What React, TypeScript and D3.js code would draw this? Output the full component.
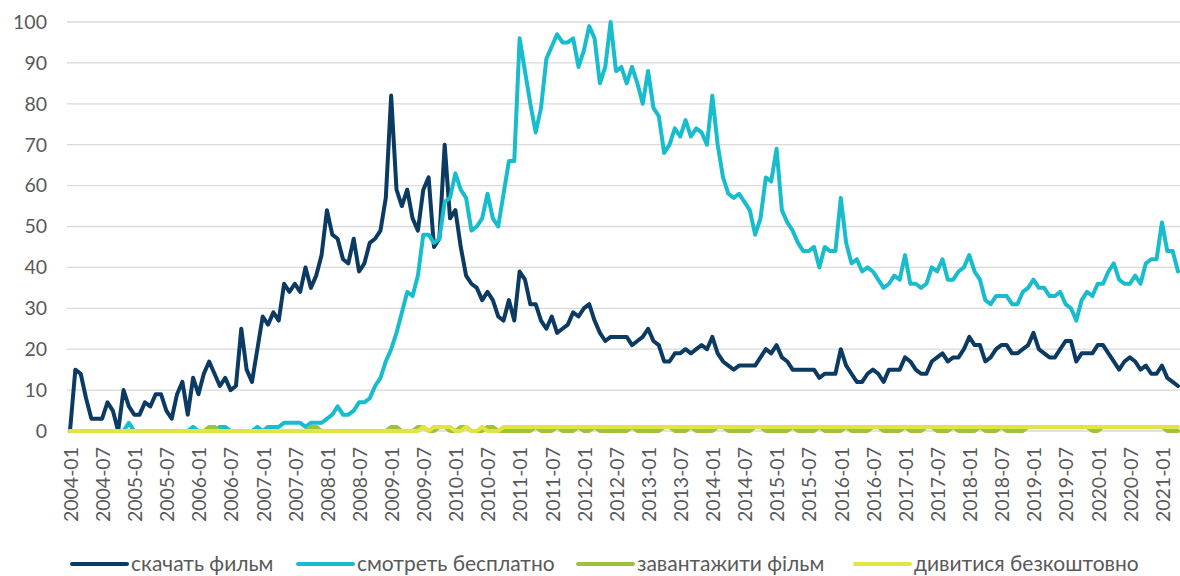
import * as d3 from "d3";
import * as React from "react";

// monthly index, 2004-01 .. 2021-04
const startYear = 2004;
const months: string[] = d3.range(208).map(i => {
    const y = startYear + Math.floor(i / 12);
    const m = (i % 12) + 1;
    return `${y}-${m < 10 ? "0" + m : m}`;
});

const seriesNames = ["скачать фильм", "смотреть бесплатно", "завантажити фільм", "дивитися безкоштовно"];
const seriesColors = ["#0b3a62", "#17bccd", "#9dc23b", "#e3e343"];

const skachat = [
    0, 15, 14, 8, 3, 3, 3, 7, 5, 0, 10, 6,
    4, 4, 7, 6, 9, 9, 5, 3, 9, 12, 4, 13,
    9, 14, 17, 14, 11, 13, 10, 11, 25, 15, 12, 20,
    28, 26, 29, 27, 36, 34, 36, 34, 40, 35, 38, 43,
    54, 48, 47, 42, 41, 47, 39, 41, 46, 47, 49, 57,
    82, 59, 55, 59, 52, 49, 59, 62, 45, 47, 70, 52,
    54, 45, 38, 36, 35, 32, 34, 32, 28, 27, 32, 27,
    39, 37, 31, 31, 27, 25, 28, 24, 25, 26, 29, 28,
    30, 31, 27, 24, 22, 23, 23, 23, 23, 21, 22, 23,
    25, 22, 21, 17, 17, 19, 19, 20, 19, 20, 21, 20,
    23, 19, 17, 16, 15, 16, 16, 16, 16, 18, 20, 19,
    21, 18, 17, 15, 15, 15, 15, 15, 13, 14, 14, 14,
    20, 16, 14, 12, 12, 14, 15, 14, 12, 15, 15, 15,
    18, 17, 15, 14, 14, 17, 18, 19, 17, 18, 18, 20,
    23, 21, 21, 17, 18, 20, 21, 21, 19, 19, 20, 21,
    24, 20, 19, 18, 18, 20, 22, 22, 17, 19, 19, 19,
    21, 21, 19, 17, 15, 17, 18, 17, 15, 16, 14, 14,
    16, 13, 12, 11,
];

const smotret = [
    0, 0, 0, 0, 0, 0, 0, 0, 0, 0, 0, 2,
    0, 0, 0, 0, 0, 0, 0, 0, 0, 0, 0, 1,
    0, 0, 0, 0, 1, 1, 0, 0, 0, 0, 0, 1,
    0, 1, 1, 1, 2, 2, 2, 2, 1, 2, 2, 2,
    3, 4, 6, 4, 4, 5, 7, 7, 8, 11, 13, 17,
    20, 24, 29, 34, 33, 38, 48, 48, 46, 47, 56, 57,
    63, 59, 57, 49, 50, 52, 58, 52, 50, 58, 66, 66,
    96, 88, 80, 73, 79, 91, 94, 97, 95, 95, 96, 89,
    93, 99, 96, 85, 89, 100, 88, 89, 85, 89, 85, 80,
    88, 79, 77, 68, 70, 74, 72, 76, 72, 74, 73, 70,
    82, 70, 62, 58, 57, 58, 56, 54, 48, 52, 62, 61,
    69, 54, 51, 49, 46, 44, 44, 45, 40, 45, 44, 44,
    57, 46, 41, 42, 39, 40, 39, 37, 35, 36, 38, 37,
    43, 36, 36, 35, 36, 40, 39, 42, 37, 37, 39, 40,
    43, 39, 37, 32, 31, 33, 33, 33, 31, 31, 34, 35,
    37, 35, 35, 33, 33, 34, 31, 30, 27, 32, 34, 33,
    36, 36, 39, 41, 37, 36, 36, 38, 36, 41, 42, 42,
    51, 44, 44, 39,
];

const zavantazhyty = [
    0, 0, 0, 0, 0, 0, 0, 0, 0, 0, 0, 0,
    0, 0, 0, 0, 0, 0, 0, 0, 0, 0, 0, 0,
    0, 0, 1, 1, 0, 0, 0, 0, 0, 0, 0, 0,
    0, 0, 0, 0, 0, 0, 0, 0, 0, 1, 1, 0,
    0, 0, 0, 0, 0, 0, 0, 0, 0, 0, 0, 0,
    1, 1, 0, 0, 0, 1, 1, 0, 0, 1, 1, 0,
    0, 1, 1, 0, 0, 0, 1, 1, 0, 0, 0, 0,
    0, 0, 0, 1, 0, 0, 0, 1, 0, 0, 0, 1,
    0, 0, 1, 0, 0, 0, 0, 0, 0, 1, 0, 0,
    0, 0, 0, 1, 1, 0, 0, 0, 1, 0, 0, 0,
    0, 1, 1, 0, 0, 0, 0, 0, 1, 1, 0, 0,
    0, 0, 0, 1, 0, 0, 0, 0, 1, 0, 0, 0,
    0, 1, 0, 0, 0, 0, 1, 1, 0, 0, 0, 0,
    1, 0, 0, 0, 1, 1, 0, 0, 0, 1, 0, 0,
    0, 0, 1, 0, 0, 0, 1, 0, 0, 0, 0, 1,
    1, 1, 1, 1, 1, 1, 1, 1, 1, 1, 1, 0,
    0, 1, 1, 1, 1, 1, 1, 1, 1, 1, 1, 1,
    1, 0, 0, 0,
];

const dyvytysia = [
    0, 0, 0, 0, 0, 0, 0, 0, 0, 0, 0, 0,
    0, 0, 0, 0, 0, 0, 0, 0, 0, 0, 0, 0,
    0, 0, 0, 0, 0, 0, 0, 0, 0, 0, 0, 0,
    0, 0, 0, 0, 0, 0, 0, 0, 0, 0, 0, 0,
    0, 0, 0, 0, 0, 0, 0, 0, 0, 0, 0, 0,
    0, 0, 0, 0, 0, 0, 1, 0, 1, 1, 1, 1,
    0, 0, 1, 0, 0, 1, 0, 0, 0, 1, 1, 1,
    1, 1, 1, 1, 1, 1, 1, 1, 1, 1, 1, 1,
    1, 1, 1, 1, 1, 1, 1, 1, 1, 1, 1, 1,
    1, 1, 1, 1, 1, 1, 1, 1, 1, 1, 1, 1,
    1, 1, 1, 1, 1, 1, 1, 1, 1, 1, 1, 1,
    1, 1, 1, 1, 1, 1, 1, 1, 1, 1, 1, 1,
    1, 1, 1, 1, 1, 1, 1, 1, 1, 1, 1, 1,
    1, 1, 1, 1, 1, 1, 1, 1, 1, 1, 1, 1,
    1, 1, 1, 1, 1, 1, 1, 1, 1, 1, 1, 1,
    1, 1, 1, 1, 1, 1, 1, 1, 1, 1, 1, 1,
    1, 1, 1, 1, 1, 1, 1, 1, 1, 1, 1, 1,
    1, 1, 1, 1,
];

const allSeries = [skachat, smotret, zavantazhyty, dyvytysia];
const yTicks = [0, 10, 20, 30, 40, 50, 60, 70, 80, 90, 100];

const WIDTH = 1180;
const HEIGHT = 576;
const FONT = "Lato, 'Open Sans', sans-serif";
const TEXT_COLOR = "#595959";

export default function App(): JSX.Element {
    const x = d3.scaleLinear().domain([0, months.length - 1]).range([70, 1178]);
    const y = d3.scaleLinear().domain([0, 100]).range([431, 22]);

    const lineGen = d3.line<number>()
        .x((_, i) => x(i))
        .y(d => y(d));

    const tickIdx = months.map((_, i) => i).filter(i => i % 6 === 0);

    const legendX = [72, 298, 578, 855];
    const legendY = 564;

    return (
        <svg width={WIDTH} height={HEIGHT} style={{ position: "absolute", left: 0, top: 0 }}
            fontFamily={FONT}>
            <rect width={WIDTH} height={HEIGHT} fill="#ffffff" />
            {yTicks.map(t => (
                <g key={t}>
                    <line x1={67} x2={WIDTH} y1={y(t)} y2={y(t)} stroke="#d9d9d9" strokeWidth={1.3} />
                    <text x={47} y={y(t)} dy="0.35em" textAnchor="end" fontSize={19.5} fill={TEXT_COLOR}>{t}</text>
                </g>
            ))}
            {tickIdx.map(i => (
                <text key={i} transform={`translate(${x(i) + 1},447) rotate(-90)`} dy="0.35em"
                    textAnchor="end" fontSize={19.5} fill={TEXT_COLOR}>{months[i]}</text>
            ))}
            {allSeries.map((s, k) => (
                <path key={k} d={lineGen(s) ?? ""} fill="none" stroke={seriesColors[k]}
                    strokeWidth={4} strokeLinejoin="round" strokeLinecap="round" />
            ))}
            {seriesNames.map((n, k) => (
                <g key={n} transform={`translate(${legendX[k]},${legendY})`}>
                    <line x1={0} x2={55} y1={0} y2={0} stroke={seriesColors[k]} strokeWidth={4} strokeLinecap="round" />
                    <text x={59} y={0} dy="0.35em" fontSize={21} fill={TEXT_COLOR}>{n}</text>
                </g>
            ))}
        </svg>
    );
}
